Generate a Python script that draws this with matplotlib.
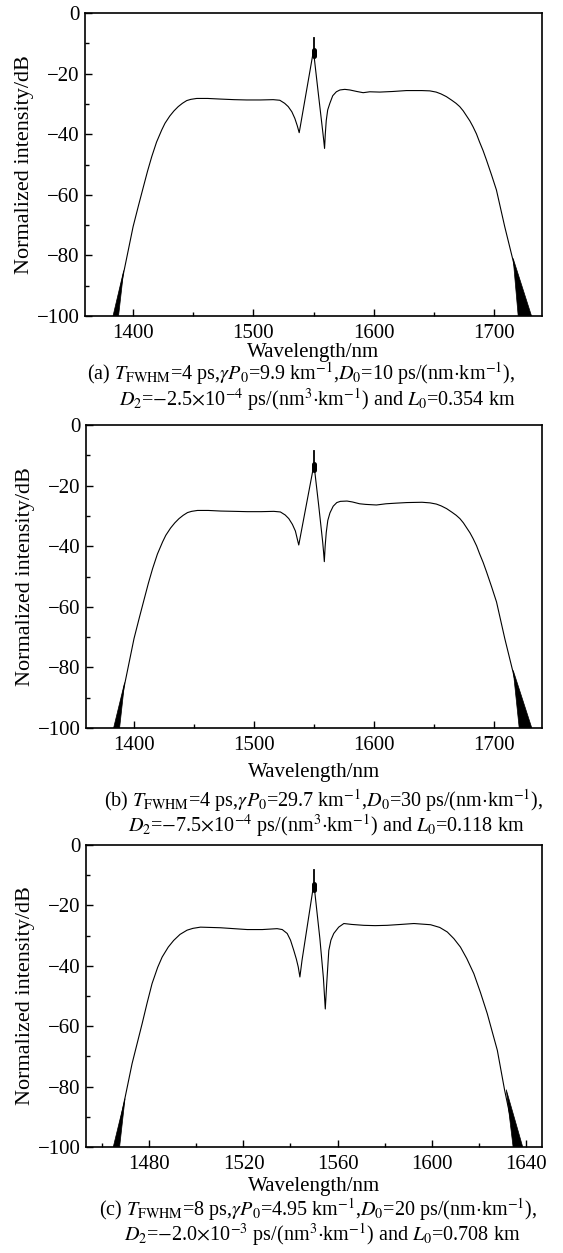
import matplotlib
matplotlib.use("Agg")
import matplotlib.pyplot as plt
from matplotlib.ticker import MultipleLocator

plt.rcParams['font.family'] = ['Liberation Serif', 'DejaVu Serif']
plt.rcParams['mathtext.fontset'] = 'stix'

# ---------------- data ----------------
wl_a = [1384.8, 1392, 1400, 1404.5, 1408.6, 1412, 1415.5, 1419.5, 1423.8, 1426.5, 1430.5,
        1434, 1437.5, 1441, 1444.6, 1448, 1452.9, 1462, 1472.3, 1484, 1494.4, 1506,
        1516.5, 1522, 1526, 1529, 1532, 1534.5, 1536.5, 1538.1,
        1539, 1549.6, 1550.2, 1553.9, 1557.5, 1558.5, 1559.2, 1559.8, 1560.6, 1561.8,
        1563.6, 1566, 1569, 1572, 1576, 1580.2, 1586, 1591.3, 1596.8, 1605.1, 1616,
        1627.3, 1640, 1646.7, 1652, 1656, 1660.5, 1665, 1668.5, 1671.6, 1674.5, 1677,
        1680, 1682.6, 1685.5, 1688, 1691, 1693.8, 1698, 1702.1, 1709, 1718, 1726]
db_a = [-100, -86, -70.5, -63.5, -57.3, -52.2, -47.4, -42.6, -38.6, -36.4, -34.0,
        -32.3, -30.9, -29.8, -28.9, -28.5, -28.2, -28.2, -28.4, -28.6, -28.7, -28.7,
        -28.6, -28.8, -29.8, -30.9, -32.6, -34.8, -37.2, -39.5,
        -37.5, -13.3, -13.3, -26.2, -38.5, -42, -44.7, -40, -35.5, -32,
        -29.8, -27.3, -26, -25.4, -25.2, -25.4, -25.9, -26.3, -26.0, -26.1, -25.9,
        -25.6, -25.6, -25.7, -26.1, -26.7, -27.6, -28.8, -29.8, -30.9, -32.3, -33.8,
        -35.6, -37.5, -39.9, -42.5, -45.4, -48.5, -53.4, -58.4, -70.5, -85, -100]

wl_b = [1384.6, 1392, 1400, 1404.5, 1408.6, 1412, 1415.5, 1419.5, 1423.8, 1426.5, 1430.5,
        1434, 1437.5, 1441, 1444.6, 1448, 1452.9, 1462, 1472.3, 1484, 1494.4, 1506,
        1516.5, 1522, 1526, 1529, 1532, 1534.5, 1536, 1537.3,
        1538.3, 1549.6, 1550.2, 1553.9, 1557.2, 1558.0, 1558.6, 1559.3, 1560.2, 1561.5,
        1563.3, 1566, 1569, 1572, 1577.5, 1582, 1588, 1593, 1602, 1610, 1618,
        1627.3, 1640, 1646.7, 1652, 1656, 1660.5, 1665, 1668.5, 1671.6, 1674.5, 1677,
        1680, 1682.6, 1685.5, 1688, 1691, 1693.8, 1698, 1702.1, 1709, 1718, 1726.2]
db_b = [-100, -86, -70.5, -63.5, -57.3, -52.2, -47.4, -42.6, -38.6, -36.4, -34.0,
        -32.3, -30.9, -29.8, -28.9, -28.5, -28.2, -28.2, -28.4, -28.5, -28.6, -28.6,
        -28.5, -28.7, -29.7, -30.9, -32.8, -35.0, -37.5, -39.6,
        -37.5, -13.8, -13.8, -26.5, -38.5, -42, -45.1, -40, -35.5, -31.5,
        -29.0, -26.8, -25.6, -25.2, -25.1, -25.4, -26.0, -26.2, -26.4, -26.0, -25.8,
        -25.6, -25.5, -25.7, -26.1, -26.7, -27.6, -28.8, -29.8, -30.9, -32.3, -33.8,
        -35.6, -37.5, -39.9, -42.5, -45.4, -48.5, -53.4, -58.4, -70.5, -85, -100]

wl_c = [1465.5, 1469.1, 1472.6, 1476.9, 1479, 1481.1, 1483.5, 1485.4, 1488, 1490.3, 1493,
        1496, 1498.5, 1501.7, 1510.2, 1521.6, 1528, 1534.3, 1536.5, 1538.6, 1540, 1541.4,
        1542.5, 1543.3, 1544, 1544.9, 1549.7, 1550.1, 1552.5, 1554.0, 1554.8, 1555.4,
        1556.3, 1557.2, 1558.4, 1560.5, 1562.7, 1566, 1571.2, 1576, 1581.1, 1587,
        1592.5, 1599.6, 1603.5, 1606.7, 1609.5, 1612.3, 1615, 1618, 1620.8, 1623.7, 1628,
        1631.1, 1636.2]
db_c = [-100, -85.6, -72.4, -59.1, -52.3, -45.9, -40.5, -37.1, -33.8, -31.6, -29.6,
        -28.2, -27.6, -27.2, -27.4, -28.0, -28.0, -27.7, -28.0, -29.3, -31.5, -34.9,
        -37.8, -40.4, -43.7, -38.2, -13.9, -13.9, -31, -44, -54.3, -46,
        -34.9, -31.5, -29.3, -27.2, -26.0, -26.3, -26.6, -26.7, -26.6, -26.3,
        -26.0, -26.4, -27.3, -28.8, -31.0, -33.8, -37.6, -42.6, -48.8, -55.8, -68,
        -81.2, -100]

# central spike (wavelength, top dB, blob dB)
spike_wl = [1550.0, 1550.0, 1550.0]
spike_top = [-8.4, -8.5, -8.2]
blob_db = [-13.3, -13.8, -13.9]

# oscillating edge bands (triangles: wavelength, dB)
band_left_wl = [[1383.3, 1387.9, 1392.2], [1383.0, 1388.0, 1392.2], [1464.6, 1467.3, 1469.6]]
band_left_db = [[-100, -100, -85], [-100, -100, -85], [-100, -100, -84]]
band_right_wl = [[1716.0, 1720.2, 1731.3], [1716.0, 1721.0, 1731.5], [1631.8, 1634.7, 1638.8]]
band_right_db = [[-81, -100, -100], [-81, -100, -100], [-81, -100, -100]]

xlims = [(1360, 1740), (1360, 1740), (1453, 1647)]
xmajor = [[1400, 1500, 1600, 1700], [1400, 1500, 1600, 1700], [1480, 1520, 1560, 1600, 1640]]
xminor = [50, 50, 20]
yticks = [0, -20, -40, -60, -80, -100]

captions = [
    (r'(a) $T_{\mathrm{FWHM}}$=4 ps,$\gamma P_0$=9.9 km$^{-1}$,$D_0$=10 ps/(nm$\cdot$km$^{-1}$),',
     r'$D_2$=$-$2.5$\times$10$^{-4}$ ps/(nm$^3$$\cdot$km$^{-1}$) and $L_0$=0.354 km'),
    (r'(b) $T_{\mathrm{FWHM}}$=4 ps,$\gamma P_0$=29.7 km$^{-1}$,$D_0$=30 ps/(nm$\cdot$km$^{-1}$),',
     r'$D_2$=$-$7.5$\times$10$^{-4}$ ps/(nm$^3$$\cdot$km$^{-1}$) and $L_0$=0.118 km'),
    (r'(c) $T_{\mathrm{FWHM}}$=8 ps,$\gamma P_0$=4.95 km$^{-1}$,$D_0$=20 ps/(nm$\cdot$km$^{-1}$),',
     r'$D_2$=$-$2.0$\times$10$^{-3}$ ps/(nm$^3$$\cdot$km$^{-1}$) and $L_0$=0.708 km'),
]

# ---------------- layout (pixels) ----------------
W, H = 563, 1253
fig = plt.figure(figsize=(W / 100, H / 100), dpi=100)

panels = [(85, 542, 13, 316), (86, 542, 425, 728), (86, 542, 845, 1147)]
xlabel_y = [352, 772, 1186]
cap_y = [(374, 400), (801, 826), (1210, 1235)]
cap_x = [(87, 119), (104, 128), (99, 124)]

series = [(wl_a, db_a), (wl_b, db_b), (wl_c, db_c)]

for i in range(3):
    l, r, t, b = panels[i]
    ax = fig.add_axes([l / W, 1 - b / H, (r - l) / W, (b - t) / H])
    wl, db = series[i]
    ax.plot(wl, db, color='black', lw=0.8, solid_joinstyle='round')
    ax.fill(band_left_wl[i], band_left_db[i], color='black', lw=0.5)
    ax.fill(band_right_wl[i], band_right_db[i], color='black', lw=0.5)
    ax.plot([spike_wl[i], spike_wl[i]], [blob_db[i], spike_top[i]], color='black', lw=1.3)
    ax.plot([spike_wl[i], spike_wl[i]], [blob_db[i] + 1.0, blob_db[i] - 1.0],
            color='black', lw=3.6, solid_capstyle='round')

    ax.set_xlim(*xlims[i])
    ax.set_ylim(-100, 0)
    ax.set_xticks(xmajor[i])
    ax.xaxis.set_minor_locator(MultipleLocator(xminor[i]))
    ax.set_yticks(yticks)
    ax.yaxis.set_minor_locator(MultipleLocator(10))
    ax.tick_params(which='both', direction='in', top=False, right=False, labelsize=15)
    ax.tick_params(which='major', length=5, width=1.0)
    ax.tick_params(which='minor', length=3, width=1.0)
    ax.tick_params(axis='x', which='major', pad=6)
    ax.tick_params(axis='y', which='major', pad=4)
    for s in ax.spines.values():
        s.set_linewidth(1.2)
    ax.set_ylabel('Normalized intensity/dB', fontsize=16, labelpad=2)

    fig.text((l + r) / 2 / W, 1 - xlabel_y[i] / H, 'Wavelength/nm', fontsize=15,
             ha='center', va='center')
    fig.text(cap_x[i][0] / W, 1 - cap_y[i][0] / H, captions[i][0], fontsize=14.5,
             ha='left', va='center')
    fig.text(cap_x[i][1] / W, 1 - cap_y[i][1] / H, captions[i][1], fontsize=14.5,
             ha='left', va='center')

fig.savefig('out.png', dpi=100)
